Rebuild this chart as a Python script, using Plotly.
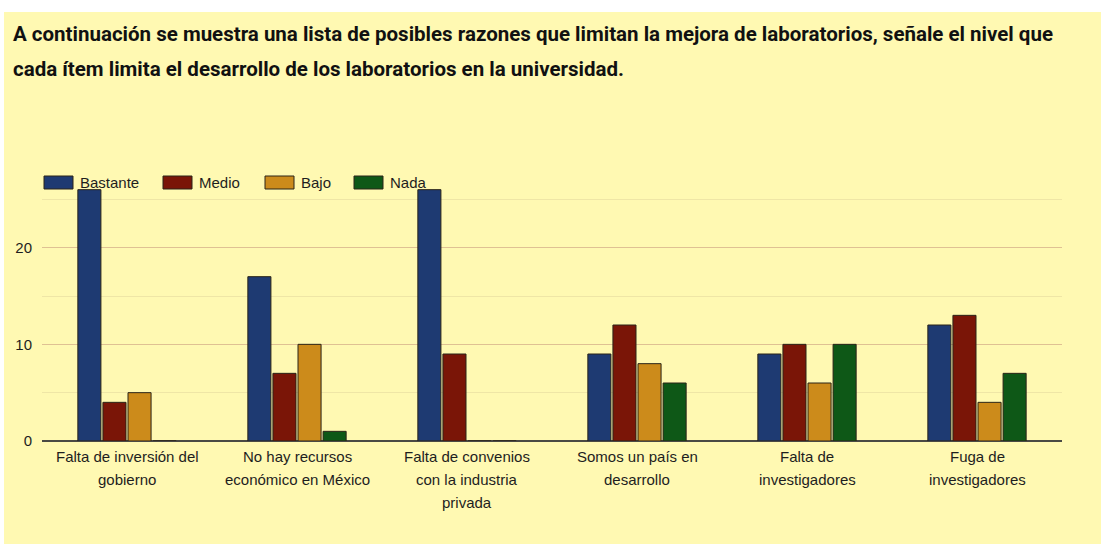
import plotly.graph_objects as go

# Survey results: how much each item limits the development of university labs
categories = [
    ["Falta de inversión del", "gobierno"],
    ["No hay recursos", "económico en México"],
    ["Falta de convenios", "con la industria", "privada"],
    ["Somos un país en", "desarrollo"],
    ["Falta de", "investigadores"],
    ["Fuga de", "investigadores"],
]
series_names = ["Bastante", "Medio", "Bajo", "Nada"]
bastante = [26, 17, 26, 9, 9, 12]
medio = [4, 7, 9, 12, 10, 13]
bajo = [5, 10, 0, 8, 6, 4]
nada = [0, 1, 0, 6, 10, 7]
title_lines = [
    "A continuación se muestra una lista de posibles razones que limitan la mejora de laboratorios, señale el nivel que",
    "cada ítem limita el desarrollo de los laboratorios en la universidad.",
]
y_ticks = [0, 10, 20]

series_values = [bastante, medio, bajo, nada]
colors = ["#1e3a72", "#7a1507", "#cc8b1b", "#0e5817"]

W, H = 1101, 544
ML, MR, MT, MB = 42, 39, 180, 103
PW, PH = W - ML - MR, H - MT - MB
LABEL_FONT = dict(family="Liberation Sans, Arial", size=15, color="#1e1e1e")


def px_x(px):
    return (px - ML) / PW


def px_y(py):
    return (H - MB - py) / PH


x_keys = [" ".join(c) for c in categories]

fig = go.Figure()
for name, vals, col in zip(series_names, series_values, colors):
    fig.add_trace(go.Bar(
        x=x_keys, y=vals, name=name,
        marker=dict(color=col, line=dict(color="#2a2418", width=1)),
        showlegend=False,
    ))

BG = "#FFF9B2"
shapes = [
    # white border strips along the top and left edges
    dict(type="rect", xref="paper", yref="paper", x0=px_x(0), x1=px_x(W),
         y0=px_y(12), y1=px_y(0), fillcolor="white", line_width=0, layer="below"),
    dict(type="rect", xref="paper", yref="paper", x0=px_x(0), x1=px_x(4),
         y0=px_y(H), y1=px_y(0), fillcolor="white", line_width=0, layer="below"),
]
annotations = []

# legend row drawn above the plot
legend_x = [44, 163, 265, 354]
for name, col, lx in zip(series_names, colors, legend_x):
    shapes.append(dict(type="rect", xref="paper", yref="paper",
                       x0=px_x(lx), x1=px_x(lx + 29), y0=px_y(189), y1=px_y(176),
                       fillcolor=col, line=dict(color="#2a2418", width=1)))
    annotations.append(dict(x=px_x(lx + 34), y=px_y(182), xref="paper", yref="paper",
                            text=name, showarrow=False, xanchor="left", yanchor="middle",
                            font=LABEL_FONT))

# category labels, one annotation per line
for key, lines in zip(x_keys, categories):
    for i, line in enumerate(lines):
        annotations.append(dict(x=key, y=0, xref="x", yref="y", text=line,
                                showarrow=False, xanchor="center", yanchor="middle",
                                yshift=-(15 + 23 * i), font=LABEL_FONT))

# heading
for i, line in enumerate(title_lines):
    annotations.append(dict(x=px_x(11), y=px_y(34 + 35 * i), xref="paper", yref="paper",
                            text=line, showarrow=False, xanchor="left", yanchor="middle",
                            font=dict(family="Roboto", size=20.5, color="#111", weight=700)))

fig.update_layout(
    width=W, height=H,
    margin=dict(l=ML, r=MR, t=MT, b=MB),
    paper_bgcolor=BG, plot_bgcolor=BG,
    barmode="group", bargap=0.41, bargroupgap=0.08,
    shapes=shapes, annotations=annotations,
    showlegend=False,
)
fig.update_xaxes(showticklabels=False, showgrid=False, showline=False, ticks="")
fig.update_yaxes(
    range=[0, 27], tickvals=y_ticks, showgrid=True, gridcolor="#dfc193", gridwidth=1,
    minor=dict(dtick=5, showgrid=True, gridcolor="#efe6a6", gridwidth=1),
    zeroline=True, zerolinecolor="#4a4a44", zerolinewidth=2,
    tickfont=LABEL_FONT,
    ticklabelstandoff=9,
)

fig.write_html("out.html")
